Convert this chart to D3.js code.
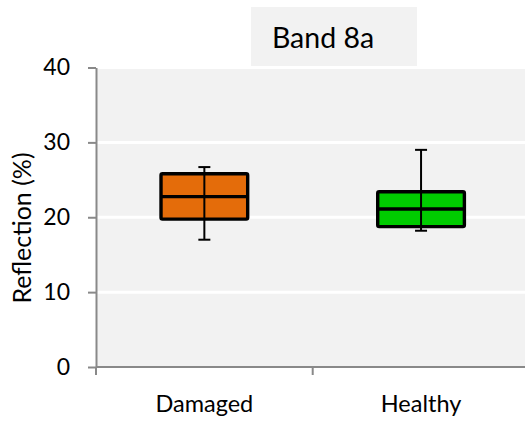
<!DOCTYPE html>
<html>
<head>
<meta charset="utf-8">
<script src="https://cdn.jsdelivr.net/npm/d3@7"></script>
<style>
  html, body { margin: 0; padding: 0; background: #ffffff; }
  svg { display: block; font-family: Lato, "Open Sans", sans-serif; }
</style>
</head>
<body>
<svg id="chart" width="525" height="421"></svg>
<script>
// Reflection statistics for Sentinel band 8a, per tree condition
const categories = ["Damaged", "Healthy"];
const whiskerLow = [17.0, 18.2];
const quartile1 = [19.75, 18.75];
const medians = [22.75, 21.1];
const quartile3 = [25.8, 23.4];
const whiskerHigh = [26.7, 29.0];
const boxColors = ["#e46c0a", "#00cc00"];
const yTicks = [0, 10, 20, 30, 40];
const chartTitle = "Band 8a";
const yTitle = "Reflection (%)";

const svg = d3.select("#chart");

const x = d3.scaleBand().domain(categories).range([96, 529.4]).paddingInner(0).paddingOuter(0);
const y = d3.scaleLinear().domain([0, 40]).range([367, 67.5]);

// plot area background
svg.append("rect")
  .attr("x", x.range()[0]).attr("y", y(40))
  .attr("width", x.range()[1] - x.range()[0]).attr("height", y(0) - y(40))
  .attr("fill", "#f2f2f2");

// horizontal gridlines
svg.append("g").selectAll("line").data(yTicks.filter(d => d > 0)).join("line")
  .attr("x1", x.range()[0]).attr("x2", x.range()[1])
  .attr("y1", d => y(d)).attr("y2", d => y(d))
  .attr("stroke", "#ffffff").attr("stroke-width", 3);

// y axis
const yAxis = svg.append("g").attr("transform", `translate(${x.range()[0]},0)`)
  .call(d3.axisLeft(y).tickValues(yTicks).tickSize(8).tickPadding(18).tickSizeOuter(0));
yAxis.select(".domain").attr("stroke", "#898989").attr("stroke-width", 2);
yAxis.selectAll(".tick line").attr("stroke", "#898989").attr("stroke-width", 2);
yAxis.selectAll(".tick text").attr("font-size", 23).attr("fill", "#000").attr("font-family", "Lato");

// x axis with ticks at category boundaries
const xAxisG = svg.append("g").attr("transform", `translate(0,${y(0)})`);
xAxisG.append("line")
  .attr("x1", x.range()[0]).attr("x2", x.range()[1])
  .attr("stroke", "#898989").attr("stroke-width", 2);
const boundaries = categories.map(c => x(c)).concat([x.range()[1]]);
xAxisG.selectAll("line.tk").data(boundaries).join("line").attr("class", "tk")
  .attr("x1", d => d).attr("x2", d => d).attr("y1", 0).attr("y2", 8)
  .attr("stroke", "#898989").attr("stroke-width", 2);
xAxisG.selectAll("text").data(categories).join("text")
  .attr("x", d => x(d) + x.bandwidth() / 2)
  .attr("y", 45)
  .attr("text-anchor", "middle")
  .attr("font-size", 23.5)
  .attr("fill", "#000")
  .text(d => d);

// boxes
const boxW = x.bandwidth() * 0.4;
const boxes = svg.append("g").selectAll("g").data(categories).join("g");
boxes.append("rect")
  .attr("x", d => x(d) + x.bandwidth() / 2 - boxW / 2)
  .attr("y", (d, i) => y(quartile3[i]))
  .attr("width", boxW)
  .attr("height", (d, i) => y(quartile1[i]) - y(quartile3[i]))
  .attr("fill", (d, i) => boxColors[i])
  .attr("stroke", "#000").attr("stroke-width", 3.4).attr("rx", 1.5);
boxes.append("line")
  .attr("x1", d => x(d) + x.bandwidth() / 2 - boxW / 2)
  .attr("x2", d => x(d) + x.bandwidth() / 2 + boxW / 2)
  .attr("y1", (d, i) => y(medians[i])).attr("y2", (d, i) => y(medians[i]))
  .attr("stroke", "#000").attr("stroke-width", 3.4);
// whiskers
boxes.append("line")
  .attr("x1", d => x(d) + x.bandwidth() / 2).attr("x2", d => x(d) + x.bandwidth() / 2)
  .attr("y1", (d, i) => y(whiskerLow[i])).attr("y2", (d, i) => y(whiskerHigh[i]))
  .attr("stroke", "#000").attr("stroke-width", 2);
[whiskerLow, whiskerHigh].forEach(arr => {
  boxes.append("line")
    .attr("x1", d => x(d) + x.bandwidth() / 2 - 6).attr("x2", d => x(d) + x.bandwidth() / 2 + 6)
    .attr("y1", (d, i) => y(arr[i])).attr("y2", (d, i) => y(arr[i]))
    .attr("stroke", "#000").attr("stroke-width", 2);
});

// title in a shaded box
svg.append("rect").attr("x", 251).attr("y", 7).attr("width", 166).attr("height", 59).attr("fill", "#f2f2f2");
svg.append("text").attr("x", 323).attr("y", 48).attr("text-anchor", "middle")
  .attr("font-size", 28.5).attr("fill", "#000").text(chartTitle);

// y axis title
svg.append("text")
  .attr("transform", `translate(31,${228}) rotate(-90)`)
  .attr("text-anchor", "middle")
  .attr("font-size", 25).attr("fill", "#000").text(yTitle);
</script>
</body>
</html>
